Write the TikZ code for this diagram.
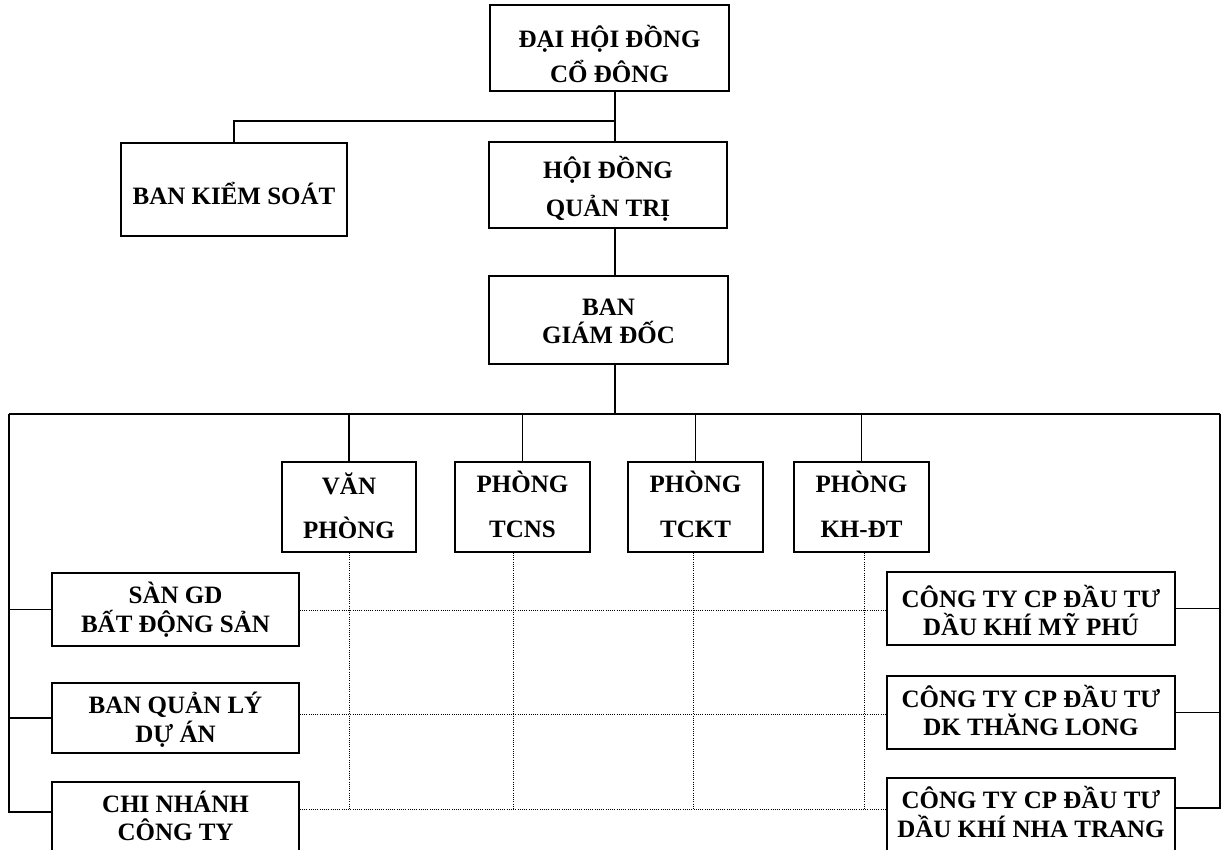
\documentclass[tikz,border=0pt]{standalone}
\usepackage{fontspec}
\setmainfont{Liberation Serif}
\tikzset{
  box/.style={draw, line width=1.7bp, inner sep=0pt, align=center, text depth=0pt},
  fs/.style={font=\fontsize{25bp}{#1bp}\selectfont\bfseries},
  conn/.style={line width=1.4bp},
  dotln/.style={line width=0.9bp, dash pattern=on 0.9bp off 1.3bp},
}
\begin{document}
\begin{tikzpicture}[x=1bp,y=-1bp]
\useasboundingbox (0,0) rectangle (1222,850);
\clip (0,0) rectangle (1222,850);
% boxes (text height places the last baseline)
\node[box, fs=35, minimum width=239bp, minimum height=86bp, text height=68bp] (dh) at (609.5,48) {ĐẠI HỘI ĐỒNG\\CỔ ĐÔNG};
\node[box, fs=38, minimum width=238bp, minimum height=86bp, text height=62bp] (hd) at (608,185) {HỘI ĐỒNG\\QUẢN TRỊ};
\node[box, fs=29, minimum width=226bp, minimum height=93bp, text height=29bp] (bks) at (234,189.5) {BAN KIỂM SOÁT};
\node[box, fs=28, minimum width=239bp, minimum height=88bp, text height=46bp] (bgd) at (608.5,320) {BAN\\GIÁM ĐỐC};
\node[box, fs=44, minimum width=134bp, minimum height=90bp, text height=62bp] (vp) at (349,507) {VĂN\\PHÒNG};
\node[box, fs=45, minimum width=135bp, minimum height=90bp, text height=60bp] (tcns) at (522.5,507) {PHÒNG\\TCNS};
\node[box, fs=45, minimum width=135bp, minimum height=90bp, text height=60bp] (tckt) at (695.5,507) {PHÒNG\\TCKT};
\node[box, fs=45, minimum width=135bp, minimum height=90bp, text height=60bp] (khdt) at (861.5,507) {PHÒNG\\KH-ĐT};
\node[box, fs=29, minimum width=247bp, minimum height=73bp, text height=45bp] (san) at (175.5,609.5) {SÀN GD\\BẤT ĐỘNG SẢN};
\node[box, fs=29, minimum width=247bp, minimum height=70bp, text height=48bp] (bql) at (175.5,718) {BAN QUẢN LÝ\\DỰ ÁN};
\node[box, fs=28, minimum width=247bp, minimum height=73bp, text height=43bp] (cn) at (175.5,818.5) {CHI NHÁNH\\CÔNG TY};
\node[box, fs=28, minimum width=288bp, minimum height=73bp, text height=53bp] (mp) at (1031,608.5) {CÔNG TY CP ĐẦU TƯ\\DẦU KHÍ MỸ PHÚ};
\node[box, fs=28, minimum width=288bp, minimum height=73bp, text height=45bp] (tl) at (1031,712.5) {CÔNG TY CP ĐẦU TƯ\\DK THĂNG LONG};
\node[box, fs=29, minimum width=288bp, minimum height=73bp, text height=45bp] (nt) at (1031,814.5) {CÔNG TY CP ĐẦU TƯ\\DẦU KHÍ NHA TRANG};
% helper coordinates
\coordinate (sp) at (615,0);
\coordinate (j1) at (615,121);
\coordinate (bus) at (615,414);
\coordinate (busL) at (9,414);
\coordinate (busR) at (1220,414);
\coordinate (Lend) at (9,812);
\coordinate (Rend) at (1220,808);
\coordinate (dl1) at (0,610);
\coordinate (dl2) at (0,714);
\coordinate (dl3) at (0,809);
\coordinate (dx2) at (513,0);
\coordinate (dx3) at (693,0);
\coordinate (dx4) at (864,0);
% solid connectors
\draw[conn] (dh.south -| sp) -- (hd.north -| sp);
\draw[conn] (j1) -| (bks.north);
\draw[conn] (hd.south -| sp) -- (bgd.north -| sp);
\draw[conn] (bgd.south -| sp) -- (bus);
\draw[conn] (busL) -- (busR);
\draw[conn] (vp.north |- bus) -- (vp.north);
\draw[conn] (tcns.north |- bus) -- (tcns.north);
\draw[conn] (tckt.north |- bus) -- (tckt.north);
\draw[conn] (khdt.north |- bus) -- (khdt.north);
\draw[conn] (busL) -- (Lend) -- (cn.west |- Lend);
\draw[conn] (san.west) -- (san.west -| busL);
\draw[conn] (bql.west) -- (bql.west -| busL);
\draw[conn] (busR) -- (Rend) -- (nt.east |- Rend);
\draw[conn] (mp.east) -- (mp.east -| busR);
\draw[conn] (tl.east) -- (tl.east -| busR);
% dotted grid
\draw[dotln] (vp.south) -- (vp.south |- dl3);
\draw[dotln] (tcns.south -| dx2) -- (dx2 |- dl3);
\draw[dotln] (tckt.south -| dx3) -- (dx3 |- dl3);
\draw[dotln] (khdt.south -| dx4) -- (dx4 |- dl3);
\draw[dotln] (san.east |- dl1) -- (mp.west |- dl1);
\draw[dotln] (bql.east |- dl2) -- (tl.west |- dl2);
\draw[dotln] (cn.east |- dl3) -- (nt.west |- dl3);
\end{tikzpicture}
\end{document}
